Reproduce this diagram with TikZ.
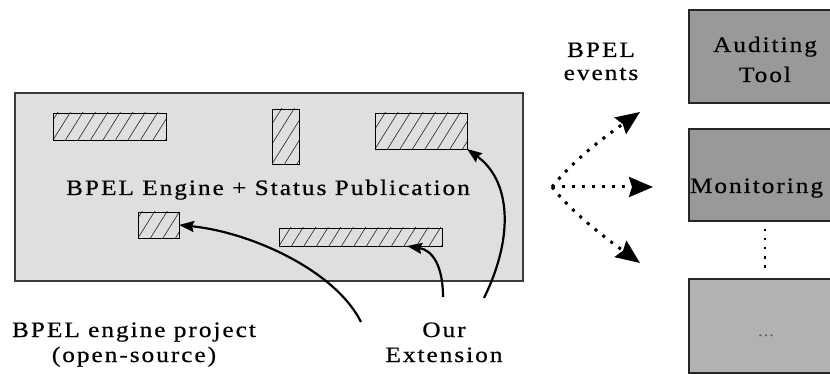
\documentclass[tikz,border=0pt]{standalone}
\usepackage{fontspec}
\setmainfont{Liberation Serif}[LetterSpace=9, FakeStretch=1.15, FakeBold=0.6]
\usetikzlibrary{arrows.meta}
\definecolor{enginebg}{HTML}{DFDFDF}
\definecolor{toolbg}{HTML}{999999}
\definecolor{morebg}{HTML}{B2B2B2}
\definecolor{edgecol}{HTML}{3A3A3A}
\begin{document}
\begin{tikzpicture}[x=1pt,y=-1pt,
  every node/.style={inner sep=0pt, outer sep=0pt},
  txt/.style={font=\fontsize{22}{26}\selectfont, anchor=base},
  enginebox/.style={draw=edgecol, line width=1.3pt, fill=enginebg},
  hatchbox/.style={draw=black, line width=0.9pt,
    path picture={\foreach \k in {-8,...,16}{\draw[line width=0.6pt, black!85]
      ([xshift=\k*12.5pt]path picture bounding box.south west) -- ++(58:200pt);}}},
  toolbox/.style={draw=black!85, line width=1.5pt, fill=toolbg, minimum width=160pt},
  morebox/.style={draw=black!85, line width=1.5pt, fill=morebg, minimum width=160pt},
  extarrow/.style={line width=2.2pt, -{Stealth[length=15pt,width=11pt,inset=2pt]}},
  evtarrow/.style={line width=3pt, dash pattern=on 3pt off 7pt, -{Stealth[length=24pt,width=20pt,inset=3pt]}},
  vdots/.style={line width=1.6pt, dash pattern=on 2.5pt off 6.5pt}
]
\clip (0,0) rectangle (830,374);
\fill[white] (0,0) rectangle (830,374);

% engine box
\node[enginebox, minimum width=508pt, minimum height=188pt] (engine) at (269,187) {};
\node[hatchbox, minimum width=113pt, minimum height=27pt] (R1) at (109.5,126.5) {};
\node[hatchbox, minimum width=27pt, minimum height=55pt] (R2) at (285.5,136.5) {};
\node[hatchbox, minimum width=92pt, minimum height=36pt] (R3) at (421,131) {};
\node[hatchbox, minimum width=41pt, minimum height=26pt] (R4) at (158.5,225) {};
\node[hatchbox, minimum width=163pt, minimum height=18pt] (R5) at (360.5,237) {};
\node[txt] (enginelbl) at (268,195) {BPEL Engine + Status Publication};

% bottom labels
\node[txt] (proj1) at (134,337) {BPEL engine project};
\node[txt] (proj2) at (134,362) {(open-source)};
\node[txt] (ext1) at (444,337) {Our};
\node[txt] (ext2) at (444,362) {Extension};

% extension arrows
\coordinate (s1) at (361,322);
\coordinate (s2) at (443,297);
\coordinate (s3) at (484,298);
\draw[extarrow] (s1) .. controls (335,270) and (250,232) .. (R4.east);
\draw[extarrow] (s2) .. controls (443,265) and (432,250) .. ([xshift=-35pt]R5.south east);
\draw[extarrow] (s3) .. controls (515,235) and (510,180) .. (R3.south east);

% events
\node[txt] (ev1) at (601,57) {BPEL};
\node[txt] (ev2) at (601,80) {events};
\coordinate (src) at (552,187);
\coordinate (t1) at (640,112);
\coordinate (t2) at (653,187);
\coordinate (t3) at (640,263);
\draw[evtarrow] (src) .. controls (572,162) and (600,140) .. (t1);
\draw[evtarrow] (src) -- (t2);
\draw[evtarrow] (src) .. controls (572,212) and (600,234) .. (t3);

% right boxes
\node[toolbox, minimum height=93pt] (aud) at (769,56.5) {};
\node[toolbox, minimum height=92pt] (mon) at (769,175) {};
\node[morebox, minimum height=94pt] (more) at (769,326) {};
\node[txt] (aud1) at (765,52) {Auditing};
\node[txt] (aud2) at (765,82) {Tool};
\node[txt, anchor=base west] (mon1) at (690,193) {Monitoring};
\node[font=\fontsize{15}{16}\selectfont, anchor=base, text=black!62] (moredots) at (766,336) {...};
\draw[vdots] ([xshift=-4pt]mon.south) ++(0,8) -- ([xshift=-4pt,yshift=7pt]more.north);
\end{tikzpicture}
\end{document}
